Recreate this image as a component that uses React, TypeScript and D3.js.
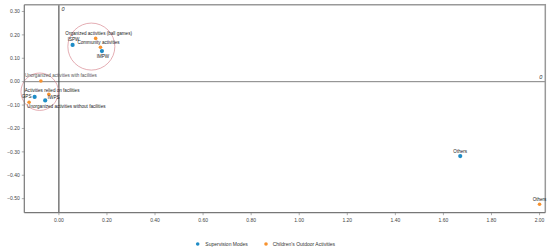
import React from "react";
import * as d3 from "d3";

const supervisionNames = ["ISPW", "IMPW", "GPS", "IWPS", "Others"];
const supervisionX = [0.057, 0.179, -0.101, -0.057, 1.67];
const supervisionY = [0.157, 0.131, -0.065, -0.08, -0.318];

const activityNames = [
  "Organized activities (ball games)",
  "Community activities",
  "Unorganized activities with facilities",
  "Activities relied on facilities",
  "Unorganized activities without facilities",
  "Others",
];
const activityX = [0.153, 0.173, -0.075, -0.042, -0.124, 2.0];
const activityY = [0.185, 0.147, 0.003, -0.054, -0.088, -0.524];

const xTicks = [0, 0.2, 0.4, 0.6, 0.8, 1.0, 1.2, 1.4, 1.6, 1.8, 2.0];
const yTicks = [0.3, 0.2, 0.1, 0, -0.1, -0.2, -0.3, -0.4, -0.5];

const seriesNames = ["Supervision Modes", "Children's Outdoor Activities"];
const colors = ["#1e8cc6", "#f7922e"];

// label offsets (px) for each point: [dx, dy, anchor]
const supLabelPos: [number, number, string][] = [
  [1, -3.5, "middle"],
  [1, 6.5, "middle"],
  [-8, 1.5, "middle"],
  [8.5, -1.5, "middle"],
  [0, -3.5, "middle"],
];
const actLabelPos: [number, number, string][] = [
  [3, -3.5, "middle"],
  [-2, -3.5, "middle"],
  [-16, -3.5, "start"],
  [-24, -2.5, "start"],
  [-2, 6, "start"],
  [0, -3.5, "middle"],
];

// highlight circles: center in data units, radius in px
const circleCX = [0.135, -0.08];
const circleCY = [0.15, -0.043];
const circleR = [23.5, 18.7];

export default function App() {
  const W = 550;
  const H = 250;
  const x = d3.scaleLinear().domain([-0.144, 2.024]).range([24.3, 545.3]);
  const y = d3.scaleLinear().domain([0.329, -0.56]).range([4.7, 212.7]);
  const fmt = d3.format(".2f");
  const left = x.range()[0];
  const right = x.range()[1];
  const top = y.range()[0];
  const bottom = y.range()[1];
  const font = "Liberation Sans, Arial, sans-serif";

  return (
    <svg
      width={W}
      height={H}
      style={{ position: "absolute", left: 0, top: 0, background: "#fff" }}
      fontFamily={font}
    >
      <rect x={0} y={0} width={W} height={H} fill="#fff" />
      {/* zero lines */}
      <line x1={left} x2={right} y1={y(0)} y2={y(0)} stroke="#808080" strokeWidth={1} />
      <line x1={x(0)} x2={x(0)} y1={top} y2={bottom} stroke="#333" strokeWidth={1} />
      <text x={x(0) + 2.5} y={top + 6} fontSize={5.5} fontStyle="italic" fill="#333">0</text>
      <text x={right - 6} y={y(0) - 2.5} fontSize={5.5} fontStyle="italic" fill="#333">0</text>

      {/* circles */}
      {circleCX.map((cx, i) => (
        <circle
          key={"c" + i}
          cx={x(cx)}
          cy={y(circleCY[i])}
          r={circleR[i]}
          fill="none"
          stroke="#d98a92"
          strokeWidth={0.7}
        />
      ))}

      {/* frame */}
      <line x1={left} x2={right} y1={top} y2={top} stroke="#999" strokeWidth={1.5} />
      <line x1={right} x2={right} y1={top - 0.75} y2={bottom} stroke="#999" strokeWidth={1.5} />
      <line x1={left} x2={left} y1={top} y2={bottom} stroke="#777" strokeWidth={1.2} />
      <line x1={left} x2={right} y1={bottom} y2={bottom} stroke="#777" strokeWidth={1.2} />

      {/* y ticks */}
      {yTicks.map((t) => (
        <g key={"y" + t}>
          <line x1={left - 2.5} x2={left} y1={y(t)} y2={y(t)} stroke="#777" strokeWidth={0.6} />
          <text x={left - 4.5} y={y(t) + 1.8} fontSize={5} textAnchor="end" fill="#444">
            {fmt(t)}
          </text>
        </g>
      ))}
      {/* x ticks */}
      {xTicks.map((t) => (
        <g key={"x" + t}>
          <line x1={x(t)} x2={x(t)} y1={bottom} y2={bottom + 2.5} stroke="#777" strokeWidth={0.6} />
          <text x={x(t)} y={bottom + 9.5} fontSize={5} textAnchor="middle" fill="#444">
            {fmt(t)}
          </text>
        </g>
      ))}

      {/* points */}
      {activityX.map((v, i) => (
        <g key={"a" + i}>
          <circle cx={x(v)} cy={y(activityY[i])} r={1.8} fill={colors[1]} />
          <text
            x={x(v) + actLabelPos[i][0]}
            y={y(activityY[i]) + actLabelPos[i][1]}
            fontSize={4.6}
            textAnchor={actLabelPos[i][2]}
            fill={i === 2 ? "#555" : "#222"}
          >
            {activityNames[i]}
          </text>
        </g>
      ))}
      {supervisionX.map((v, i) => (
        <g key={"s" + i}>
          <circle cx={x(v)} cy={y(supervisionY[i])} r={2.1} fill={colors[0]} />
          <text
            x={x(v) + supLabelPos[i][0]}
            y={y(supervisionY[i]) + supLabelPos[i][1]}
            fontSize={4.6}
            textAnchor={supLabelPos[i][2]}
            fill="#222"
          >
            {supervisionNames[i]}
          </text>
        </g>
      ))}

      {/* legend */}
      <circle cx={197.7} cy={244} r={1.8} fill={colors[0]} />
      <text x={205.3} y={245.8} fontSize={5} fill="#333">{seriesNames[0]}</text>
      <circle cx={266} cy={244} r={1.8} fill={colors[1]} />
      <text x={272.7} y={245.8} fontSize={5} fill="#333">{seriesNames[1]}</text>
    </svg>
  );
}
